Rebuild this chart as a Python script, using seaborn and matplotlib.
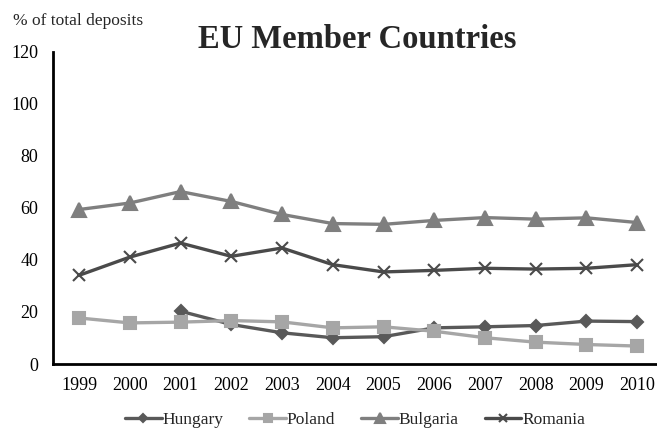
import numpy as np
import pandas as pd
import matplotlib
matplotlib.use("Agg")
import matplotlib.pyplot as plt
import seaborn as sns

years = list(range(1999, 2011))
hungary = [np.nan, np.nan, 20.3, 15.2, 12.0, 10.1, 10.5, 13.9, 14.3, 14.8, 16.5, 16.3]
poland = [17.7, 15.8, 16.1, 16.7, 16.2, 13.9, 14.3, 12.6, 10.1, 8.4, 7.5, 6.9]
bulgaria = [59.4, 61.9, 66.3, 62.5, 57.5, 54.0, 53.7, 55.2, 56.3, 55.7, 56.2, 54.4]
romania = [34.1, 41.1, 46.5, 41.4, 44.6, 38.2, 35.4, 36.0, 36.8, 36.5, 36.8, 38.2]
series_names = ["Hungary", "Poland", "Bulgaria", "Romania"]

sns.set_style("white")
plt.rcParams["font.family"] = ["Liberation Serif", "DejaVu Serif"]

fig = plt.figure(figsize=(6.57, 4.29), dpi=100)
ax = fig.add_axes([0.0807, 0.1515, 0.9193, 0.7275])

styles = {
    "Hungary": dict(color="#595959", marker="D", ms=6.5),
    "Poland": dict(color="#a6a6a6", marker="s", ms=9),
    "Bulgaria": dict(color="#7f7f7f", marker="^", ms=10),
    "Romania": dict(color="#4a4a4a", marker="x", ms=9),
}
data = {"Hungary": hungary, "Poland": poland, "Bulgaria": bulgaria, "Romania": romania}

for name in series_names:
    df = pd.DataFrame({"year": years, "value": data[name]}).dropna()
    st = styles[name]
    sns.lineplot(data=df, x="year", y="value", ax=ax, color=st["color"],
                 marker=st["marker"], markersize=st["ms"], markeredgecolor=st["color"],
                 markeredgewidth=1.5, linewidth=2.4, label=name)

ax.set_xlim(1998.487, 2010.39)
ax.set_ylim(0, 120)
ax.set_yticks(range(0, 121, 20))
ax.set_xticks(years)
ax.set_xticklabels([str(y) for y in years])
ax.set_xlabel("")
ax.set_ylabel("")
for s in ["top", "right"]:
    ax.spines[s].set_visible(False)
for s in ["left", "bottom"]:
    ax.spines[s].set_color("black")
    ax.spines[s].set_linewidth(2)
ax.tick_params(axis="both", length=0, labelsize=13, colors="black")
ax.tick_params(axis="x", pad=9)
ax.tick_params(axis="y", pad=10.5)

fig.text(0.02, 0.951, "% of total deposits", fontsize=12.5, ha="left", va="center")
fig.text(0.544, 0.888, "EU Member Countries", fontsize=23.5, fontweight="bold",
         ha="center", va="baseline")

leg = ax.legend(loc="center", bbox_to_anchor=(0.50, -0.18), ncol=4, frameon=False,
                fontsize=12.5, handlelength=2.1, handletextpad=0.05, columnspacing=1.5,
                markerscale=0.7)

fig.savefig("out.png", dpi=100)
